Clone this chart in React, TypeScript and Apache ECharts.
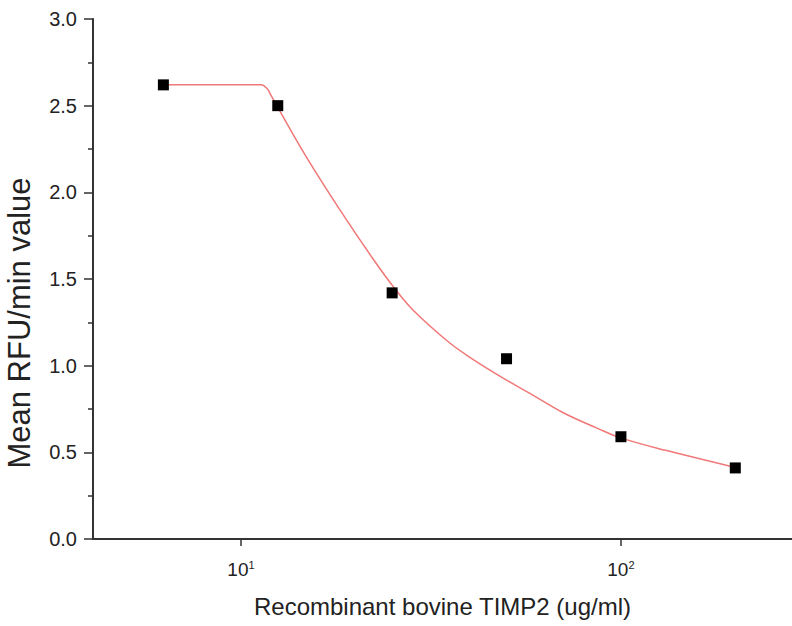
import React, { useEffect, useRef } from "react";
import * as echarts from "echarts";

// Measured points
const concentrations = [6.25, 12.5, 25, 50, 100, 200];
const meanRfu = [2.62, 2.5, 1.42, 1.04, 0.59, 0.41];

// Fitted curve
const curveX = [6.25, 11.3, 11.7, 12.0, 12.5, 14.9, 18.2, 22.2, 25.5, 28.4, 34.8, 39.3, 48, 57.6, 70.3, 86.5, 99.4, 132, 194];
const curveY = [2.62, 2.62, 2.6, 2.56, 2.49, 2.2, 1.9, 1.62, 1.44, 1.32, 1.145, 1.06, 0.94, 0.84, 0.73, 0.64, 0.585, 0.51, 0.42];

const FONT = "'Liberation Sans', Arial, sans-serif";
const TEXT = "#222";

export default function App() {
  const ref = useRef<HTMLDivElement>(null);
  useEffect(() => {
    if (!ref.current) return;
    const chart = echarts.init(ref.current, undefined, { renderer: "svg" });
    chart.setOption({
      animation: false,
      backgroundColor: "#fff",
      textStyle: { fontFamily: FONT },
      grid: { left: 93, top: 19, right: 0, bottom: 87, containLabel: false, outerBoundsMode: "none" },
      xAxis: {
        type: "log",
        logBase: 10,
        min: 4.08,
        max: 282,
        name: "Recombinant bovine TIMP2 (ug/ml)",
        nameLocation: "middle",
        nameGap: 55,
        nameTextStyle: { fontSize: 24, color: TEXT, fontFamily: FONT },
        axisLine: { lineStyle: { color: "#333", width: 2 } },
        axisTick: { show: true, inside: false, length: 7, lineStyle: { color: "#333", width: 1.5 } },
        axisLabel: {
          showMinLabel: false,
          showMaxLabel: false,
          margin: 20,
          color: TEXT,
          fontFamily: FONT,
          formatter: (v: number) => "{b|10}{s|" + Math.round(Math.log10(v)) + "}",
          rich: {
            b: { fontSize: 19, color: TEXT, fontFamily: FONT, lineHeight: 20 },
            s: { fontSize: 11, color: TEXT, fontFamily: FONT, verticalAlign: "top", lineHeight: 18 },
          },
        },
        splitLine: { show: false },
        minorTick: { show: false },
      },
      yAxis: {
        type: "value",
        min: 0,
        max: 3,
        interval: 0.5,
        name: "Mean RFU/min value",
        nameLocation: "middle",
        nameGap: 58,
        nameTextStyle: { fontSize: 31, color: TEXT, fontFamily: FONT, padding: [0, 88, 0, 0] },
        axisLine: { show: true, lineStyle: { color: "#333", width: 2 } },
        axisTick: { show: true, inside: false, length: 9, lineStyle: { color: "#333", width: 1.5 } },
        minorTick: { show: true, splitNumber: 2, length: 5, lineStyle: { color: "#333", width: 1.5 } },
        axisLabel: {
          margin: 16,
          fontSize: 20,
          color: TEXT,
          fontFamily: FONT,
          formatter: (v: number) => v.toFixed(1),
        },
        splitLine: { show: false },
      },
      series: [
        {
          type: "line",
          data: curveX.map((x, i) => [x, curveY[i]]),
          showSymbol: false,
          smooth: 0.4,
          lineStyle: { color: "#f07878", width: 1.5 },
          z: 2,
        },
        {
          type: "scatter",
          data: concentrations.map((x, i) => [x, meanRfu[i]]),
          symbol: "rect",
          symbolSize: 11,
          itemStyle: { color: "#000", opacity: 1 },
          z: 3,
        },
      ],
    });
    return () => chart.dispose();
  }, []);
  return (
    <div
      ref={ref}
      style={{ position: "fixed", left: 0, top: 0, width: 792, height: 626, background: "#fff" }}
    />
  );
}
